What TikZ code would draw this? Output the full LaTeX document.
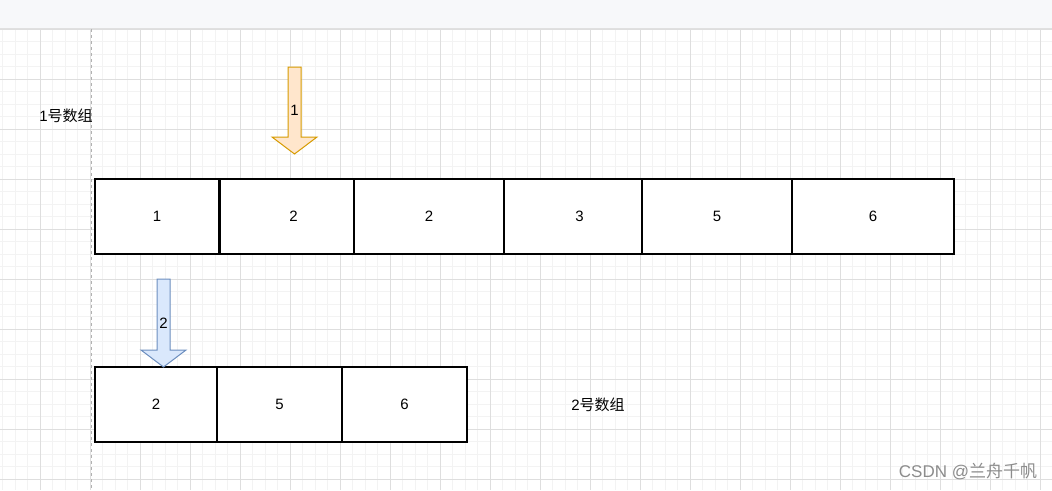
\documentclass[tikz,border=0pt]{standalone}
\usepackage{fontspec}
\setmainfont{Liberation Sans}
\newfontfamily\cjk{Noto Sans CJK SC}
\usetikzlibrary{positioning}
\definecolor{gridminor}{HTML}{F3F3F3}
\definecolor{gridmajor}{HTML}{DEDEDE}
\definecolor{topbar}{HTML}{F7F8FA}
\definecolor{ptrfill}{HTML}{FFE6CC}
\definecolor{ptrline}{HTML}{D79B00}
\definecolor{ptrfillb}{HTML}{DAE8FC}
\definecolor{ptrlineb}{HTML}{6C8EBF}
\begin{document}
\begin{tikzpicture}[x=1pt,y=-1pt,
  font=\fontsize{15}{18}\selectfont,
  cell/.style={draw=black,fill=white,line width=1.2pt,minimum height=75pt,inner sep=0pt},
  ptr/.style={fill=ptrfill,draw=ptrline,line width=1pt,line join=miter},
  ptrb/.style={fill=ptrfillb,draw=ptrlineb,line width=1pt,line join=miter},
  lbl/.style={inner sep=0pt},
  wmark/.style={inner sep=0pt,text=black!45,font=\fontsize{17}{20}\selectfont}]
\useasboundingbox (0,0) rectangle (1052,490);
\fill[white] (0,0) rectangle (1052,490);
% grid
\foreach \x in {2.5,15,...,1052} \draw[gridminor,line width=0.8pt] (\x,29) -- (\x,490);
\foreach \y in {29,41.5,...,490} \draw[gridminor,line width=0.8pt] (0,\y) -- (1052,\y);
\foreach \x in {40,90,...,1052} \draw[gridmajor,line width=0.8pt] (\x,29) -- (\x,490);
\foreach \y in {29,79,...,490} \draw[gridmajor,line width=0.8pt] (0,\y) -- (1052,\y);
\fill[topbar] (0,0) rectangle (1052,28);
\draw[black!12,line width=1pt] (0,28) -- (1052,28);
\draw[black!30,line width=1pt,dash pattern=on 3pt off 3pt] (91,29) -- (91,490);
% array 1
\node[lbl] (t1) at (66,116) {1{\cjk 号数组}};
\node[cell,minimum width=124pt] (a1) at (157,216.5) {1};
\node[cell,minimum width=147pt] (a2) at (293.5,216.5) {2};
\node[cell,minimum width=150pt] (a3) at (429,216.5) {2};
\node[cell,minimum width=151pt] (a4) at (579.5,216.5) {3};
\node[cell,minimum width=150pt] (a5) at (717,216.5) {5};
\node[cell,minimum width=162pt] (a6) at (873,216.5) {6};
% array 2
\node[cell,minimum width=122pt] (b1) at (156,404.5) {2};
\node[cell,minimum width=125pt,right=-1.2pt of b1] (b2) {5};
\node[cell,minimum width=125pt,right=-1.2pt of b2] (b3) {6};
\node[lbl] (t2) at (598,405) {2{\cjk 号数组}};
% pointers
\draw[ptr] (288,67) -- (301,67) -- (301,137) -- (317,137) -- (294.5,154) -- (272,137) -- (288,137) -- cycle;
\node[lbl] (p1) at (294.5,110) {1};
\draw[ptrb] (157,279) -- (170,279) -- (170,350) -- (186,350) -- (163.5,367) -- (141,350) -- (157,350) -- cycle;
\node[lbl] (p2) at (163.5,323) {2};
\node[wmark] (wm) at (968,472) {CSDN @{\cjk 兰舟千帆}};
\end{tikzpicture}
\end{document}
